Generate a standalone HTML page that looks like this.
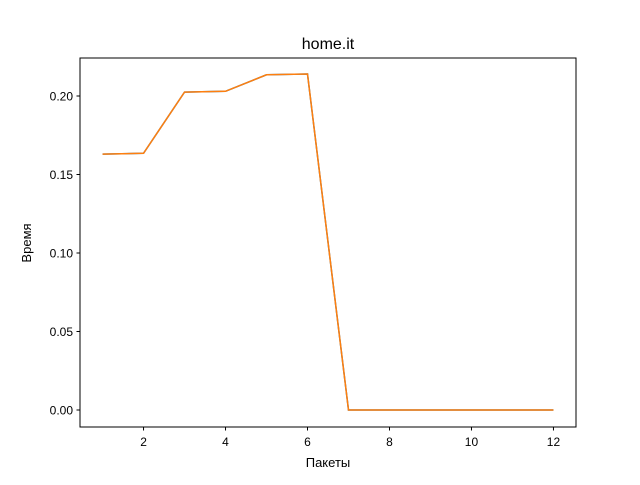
<!DOCTYPE html>
<html><head><meta charset="utf-8"><style>
body{margin:0;background:#fff;}
svg{font-family:"Liberation Sans","DejaVu Sans",sans-serif;}
</style></head><body>
<svg id="chart" width="640" height="480" xmlns="http://www.w3.org/2000/svg">
<rect width="640" height="480" fill="#fff"/>
<text x="328" y="49" text-anchor="middle" font-size="16">home.it</text>
<g id="marks"></g>
<rect x="80" y="58" width="496" height="369" fill="none" stroke="#000" stroke-width="1"/>
<g id="xticks"></g><g id="yticks"></g>
<text x="328" y="467" text-anchor="middle" font-size="13">Пакеты</text>
<text x="31" y="243" text-anchor="middle" font-size="13" transform="rotate(-90 31 243)">Время</text>
</svg>
<script>
const categories=[1,2,3,4,5,6,7,8,9,10,11,12];
const seriesA=[0.163,0.1635,0.2025,0.203,0.2135,0.214,0,0,0,0,0,0];
const seriesB=[0.163,0.1635,0.2025,0.203,0.2135,0.214,0,0,0,0,0,0];
const xTickLabels=[2,4,6,8,10,12];
const yTickLabels=[0.00,0.05,0.10,0.15,0.20];
const NS="http://www.w3.org/2000/svg";
function xs(v){return 80+(v-0.45)*(496/12.1);}
function ys(v){return 410-v*1570;}
const marks=document.getElementById('marks');
function line(data,color,name){
  const p=document.createElementNS(NS,'polyline');
  p.setAttribute('points',data.map((v,i)=>xs(categories[i])+','+ys(v)).join(' '));
  p.setAttribute('fill','none');p.setAttribute('stroke',color);p.setAttribute('stroke-width','1.5');
  
  
  marks.appendChild(p);
}
line(seriesA,'#1f77b4','series-a-line');
line(seriesB,'#ff7f0e','series-b-line');
const xt=document.getElementById('xticks');
xTickLabels.forEach(v=>{
  const x=xs(v);
  const l=document.createElementNS(NS,'line');
  l.setAttribute('x1',x);l.setAttribute('x2',x);l.setAttribute('y1',427);l.setAttribute('y2',430.5);l.setAttribute('stroke','#000');
  
  
  xt.appendChild(l);
  const t=document.createElementNS(NS,'text');
  t.setAttribute('x',x);t.setAttribute('y',446);t.setAttribute('text-anchor','middle');t.setAttribute('font-size','12');
  t.textContent=v;
  
  
  xt.appendChild(t);
});
const yt=document.getElementById('yticks');
yTickLabels.forEach(v=>{
  const y=ys(v);
  const l=document.createElementNS(NS,'line');
  l.setAttribute('x1',76.5);l.setAttribute('x2',80);l.setAttribute('y1',y);l.setAttribute('y2',y);l.setAttribute('stroke','#000');
  
  
  yt.appendChild(l);
  const t=document.createElementNS(NS,'text');
  t.setAttribute('x',73);t.setAttribute('y',y+4.5);t.setAttribute('text-anchor','end');t.setAttribute('font-size','12');
  t.textContent=v.toFixed(2);
  
  
  yt.appendChild(t);
});
</script>
</body></html>
